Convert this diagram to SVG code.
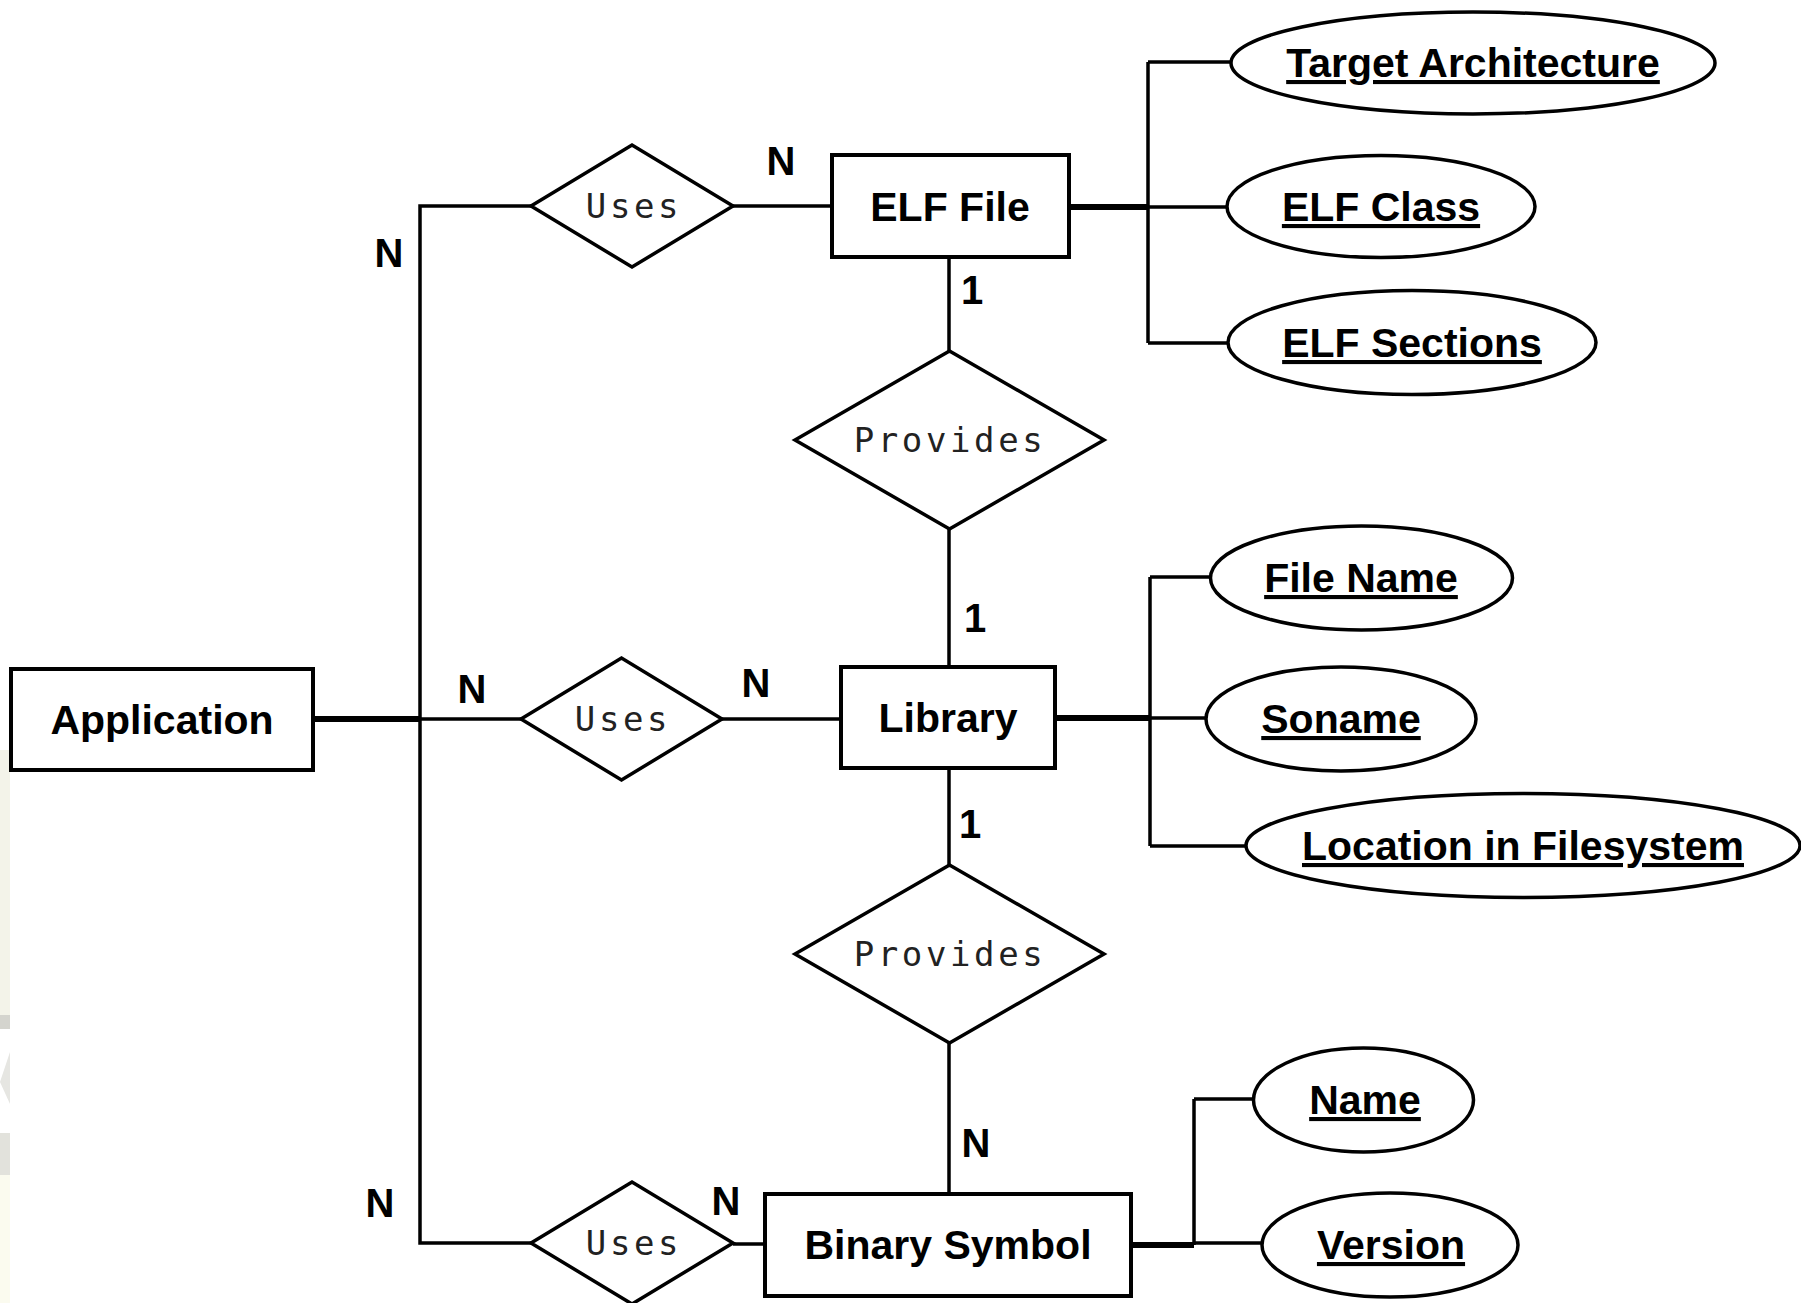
<svg xmlns="http://www.w3.org/2000/svg" width="1801" height="1303" viewBox="0 0 1801 1303">
<style>
.ent{fill:#fff;stroke:#000;stroke-width:4}
.rel{fill:#fff;stroke:#000;stroke-width:3.5;stroke-linejoin:miter}
.att{fill:#fff;stroke:#000;stroke-width:3.5}
.ln{fill:none;stroke:#000;stroke-width:3.5}
.thick{fill:none;stroke:#000;stroke-width:6}
.et{font-family:"Liberation Sans",Arial,sans-serif;font-weight:bold;font-size:41px;text-anchor:middle;fill:#000}
.at{font-family:"Liberation Sans",Arial,sans-serif;font-weight:bold;font-size:41px;text-anchor:middle;fill:#000;text-decoration:underline}
.rt{font-family:"DejaVu Sans Mono",monospace;font-size:34px;letter-spacing:3.6px;text-anchor:middle;fill:#222}
.card{font-family:"Liberation Sans",Arial,sans-serif;font-weight:bold;font-size:40px;text-anchor:middle;fill:#000}
</style>
<rect width="1801" height="1303" fill="#fff"/>
<g id="edge-artifacts">
<rect x="0" y="750" width="10" height="265" fill="#f3f3e9"/>
<rect x="0" y="1015" width="10" height="14" fill="#d4d4ce"/>
<polygon points="10,1052 0,1082 10,1104" fill="#e6e6e2"/>
<rect x="0" y="1133" width="10" height="42" fill="#e2e2dc"/>
<rect x="0" y="1175" width="10" height="128" fill="#fbfbef"/>
</g>
<g id="connectors">
<path class="ln" d="M531,206 H420 V1243 H531"/>
<path class="thick" d="M313,719 H420"/>
<path class="ln" d="M420,719 H521"/>
<path class="ln" d="M733,206 H832"/>
<path class="ln" d="M722,719 H841"/>
<path class="ln" d="M733,1244 H765"/>
<path class="ln" d="M949,257 V351"/>
<path class="ln" d="M949,529 V667"/>
<path class="ln" d="M949,768 V865"/>
<path class="ln" d="M949,1043 V1194"/>
<path class="thick" d="M1069,207 H1148"/>
<path class="ln" d="M1148,62 V343 M1148,62 H1231 M1148,207 H1228 M1148,343 H1228"/>
<path class="thick" d="M1055,718 H1150"/>
<path class="ln" d="M1150,577 V846 M1150,577 H1211 M1150,718 H1207 M1150,846 H1246"/>
<path class="thick" d="M1131,1245 H1194"/>
<path class="ln" d="M1194,1099 V1245 M1194,1099 H1254 M1194,1243 H1262"/>
</g>
<g id="cardinalities">
<text class="card" x="781" y="175">N</text>
<text class="card" x="389" y="267">N</text>
<text class="card" x="972" y="304">1</text>
<text class="card" x="975" y="632">1</text>
<text class="card" x="472" y="703">N</text>
<text class="card" x="756" y="697">N</text>
<text class="card" x="970" y="838">1</text>
<text class="card" x="976" y="1157">N</text>
<text class="card" x="380" y="1217">N</text>
<text class="card" x="726" y="1215">N</text>
</g>
<g id="application">
<rect class="ent" x="11" y="669" width="302" height="101"/>
<text class="et" x="162" y="734">Application</text>
</g>
<g id="elf-file">
<rect class="ent" x="832" y="155" width="237" height="102"/>
<text class="et" x="950" y="221">ELF File</text>
</g>
<g id="library">
<rect class="ent" x="841" y="667" width="214" height="101"/>
<text class="et" x="948" y="732">Library</text>
</g>
<g id="binary-symbol">
<rect class="ent" x="765" y="1194" width="366" height="102"/>
<text class="et" x="948" y="1259">Binary Symbol</text>
</g>
<g id="uses-elf">
<polygon class="rel" points="531,206 632,145 733,206 632,267"/>
<text class="rt" x="634" y="218">Uses</text>
</g>
<g id="uses-library">
<polygon class="rel" points="521,719 621.5,658 722,719 621.5,780"/>
<text class="rt" x="623" y="731">Uses</text>
</g>
<g id="uses-symbol">
<polygon class="rel" points="531,1243 632,1182 733,1243 632,1304"/>
<text class="rt" x="634" y="1255">Uses</text>
</g>
<g id="provides-library">
<polygon class="rel" points="795,440 949.5,351 1104,440 949.5,529"/>
<text class="rt" x="950" y="452">Provides</text>
</g>
<g id="provides-symbol">
<polygon class="rel" points="795,954 949.5,865 1104,954 949.5,1043"/>
<text class="rt" x="950" y="966">Provides</text>
</g>
<g id="attr-target-architecture">
<ellipse class="att" cx="1473" cy="63" rx="242" ry="51"/>
<text class="at" x="1473" y="77">Target Architecture</text>
</g>
<g id="attr-elf-class">
<ellipse class="att" cx="1381" cy="206.5" rx="154" ry="51"/>
<text class="at" x="1381" y="221">ELF Class</text>
</g>
<g id="attr-elf-sections">
<ellipse class="att" cx="1412" cy="342.5" rx="184" ry="52"/>
<text class="at" x="1412" y="357">ELF Sections</text>
</g>
<g id="attr-file-name">
<ellipse class="att" cx="1361.5" cy="578" rx="151" ry="52"/>
<text class="at" x="1361" y="592">File Name</text>
</g>
<g id="attr-soname">
<ellipse class="att" cx="1341" cy="719" rx="135" ry="52"/>
<text class="at" x="1341" y="733">Soname</text>
</g>
<g id="attr-location">
<ellipse class="att" cx="1523" cy="845.5" rx="277" ry="52"/>
<text class="at" x="1523" y="860">Location in Filesystem</text>
</g>
<g id="attr-name">
<ellipse class="att" cx="1363.5" cy="1100" rx="110" ry="52"/>
<text class="at" x="1365" y="1114">Name</text>
</g>
<g id="attr-version">
<ellipse class="att" cx="1390" cy="1245" rx="128" ry="52"/>
<text class="at" x="1391" y="1259">Version</text>
</g>
</svg>
